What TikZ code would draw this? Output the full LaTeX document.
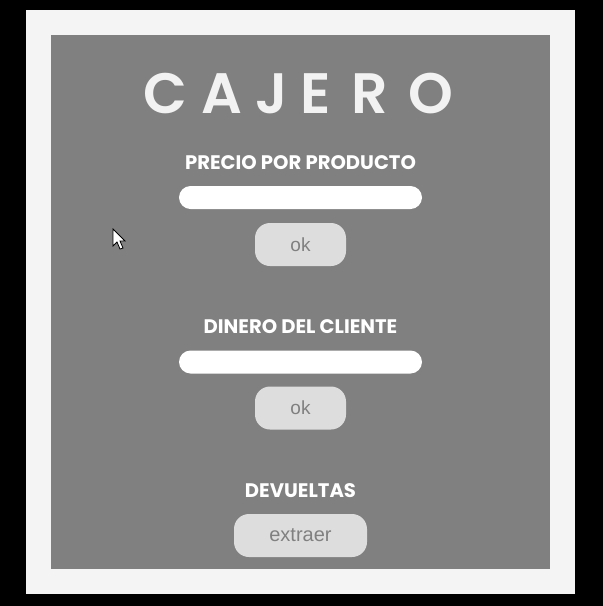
\documentclass[tikz,border=0pt]{standalone}
\usepackage{fontspec}
\setmainfont{Liberation Sans}
\newfontfamily\headfont{Poppins}
\newfontfamily\titlefont{Poppins}[UprightFont=* SemiBold]
\definecolor{frameback}{HTML}{F4F4F4}
\definecolor{panelgray}{HTML}{808080}
\definecolor{btngray}{HTML}{DDDDDD}
\definecolor{titlewhite}{HTML}{F2F2F2}
\begin{document}
\begin{tikzpicture}[x=1pt, y=-1pt,
    title/.style={text=titlewhite, font=\titlefont\fontsize{57}{57}\selectfont, inner sep=0pt, anchor=base},
    label/.style={text=white, font=\headfont\bfseries\fontsize{19.6}{20}\selectfont, inner sep=0pt, anchor=base},
    field/.style={fill=white, rounded corners=11.5pt, minimum width=243pt, minimum height=23pt, inner sep=0pt, outer sep=0pt},
    btn/.style={fill=btngray, rounded corners=15pt, minimum height=43pt, inner sep=0pt, outer sep=0pt, text=panelgray, font=\fontsize{19}{19}\selectfont}]
    % Background
    \useasboundingbox (0,0) rectangle (603,606);
    \fill[black] (0,0) rectangle (603,606);
    \fill[frameback] (26,10) rectangle (575,594);
    \fill[panelgray] (51,35) rectangle (550,569);

    % Title
    \foreach \l/\x in {C/165,A/222,J/272,E/316,R/370,O/431}
        \node[title] (t\l) at (\x,113) {\l};

    % Precio por producto
    \node[label] (precio) at (300.5,169) {PRECIO POR PRODUCTO};
    \node[field] (precioin) at (300.5,197.5) {};
    \node[btn, minimum width=91pt] (precook) at (300.5,244.5) {ok};

    % Dinero del cliente
    \node[label] (dinero) at (300.5,333) {DINERO DEL CLIENTE};
    \node[field] (dineroin) at (300.5,362) {};
    \node[btn, minimum width=91pt] (dinerook) at (300.5,408) {ok};

    % Devueltas
    \node[label] (devueltas) at (300.5,497) {DEVUELTAS};
    \node[btn, minimum width=133pt, font=\fontsize{20}{20}\selectfont] (extraer) at (300.5,535.5) {extraer};

    % Cursor
    \filldraw[fill=white, draw=black, line width=0.8pt, line join=miter]
        (113,229) -- (113,246) -- (117,242) -- (120,249) -- (123,248) -- (120,241) -- (125,241) -- cycle;
\end{tikzpicture}
\end{document}
